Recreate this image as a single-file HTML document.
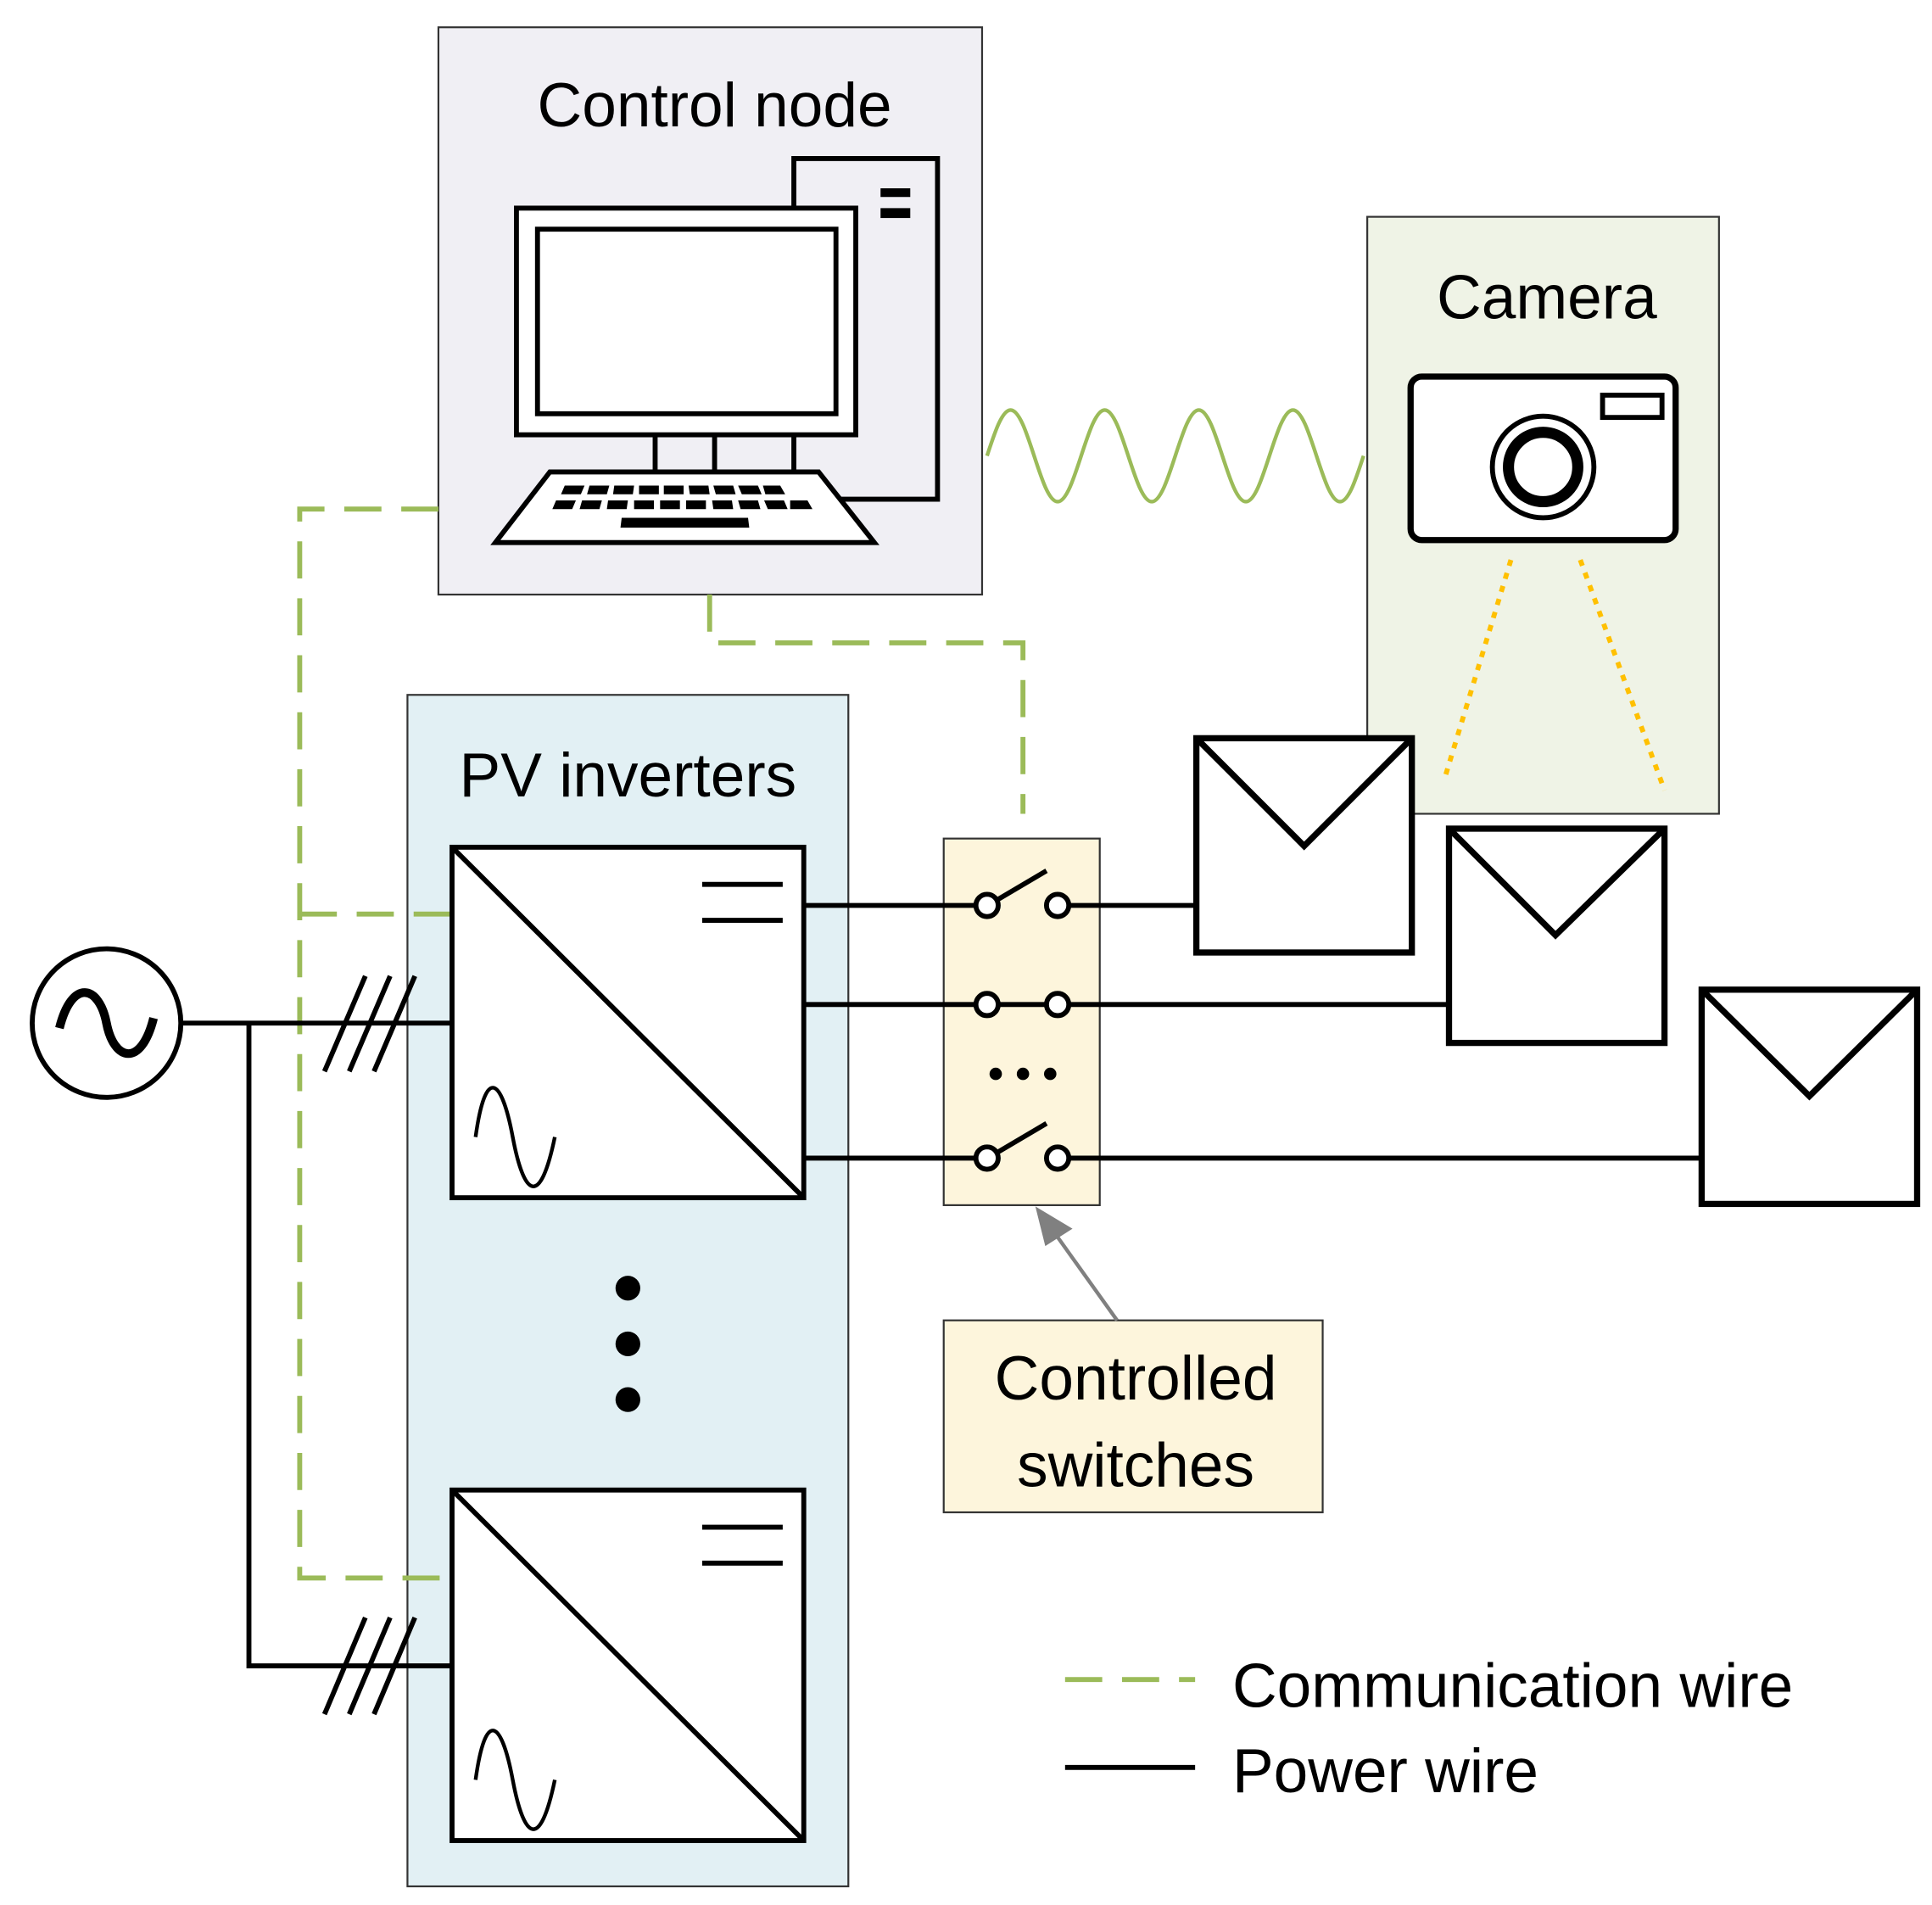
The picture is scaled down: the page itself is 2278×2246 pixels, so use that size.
<!DOCTYPE html>
<html><head><meta charset="utf-8"><style>
html,body{margin:0;padding:0;background:#fff;}
svg{display:block;}
text{font-family:"Liberation Sans",sans-serif;fill:#000;}
</style></head><body>
<svg width="2278" height="2246" viewBox="0 0 1560 1538" xmlns="http://www.w3.org/2000/svg">
<!-- boxes -->
<rect x="354" y="22" width="439" height="458" fill="#f0eff4" stroke="#333" stroke-width="1.5"/>
<rect x="1104" y="175" width="284" height="482" fill="#eff3e6" stroke="#333" stroke-width="1.5"/>
<rect x="329" y="561" width="356" height="962" fill="#e2f0f4" stroke="#333" stroke-width="1.5"/>
<rect x="762" y="677" width="126" height="296" fill="#fdf5dc" stroke="#333" stroke-width="1.5"/>
<rect x="762" y="1066" width="306" height="155" fill="#fdf5dc" stroke="#333" stroke-width="1.5"/>

<text x="577" y="102" font-size="50" text-anchor="middle">Control node</text>
<text x="1249" y="257" font-size="50" text-anchor="middle">Camera</text>
<text x="507" y="643" font-size="50" text-anchor="middle">PV inverters</text>
<text x="917" y="1130" font-size="50" text-anchor="middle">Controlled</text>
<text x="917" y="1200" font-size="50" text-anchor="middle">switches</text>
<text x="995" y="1378" font-size="50">Communication wire</text>
<text x="995" y="1447" font-size="50">Power wire</text>

<!-- computer -->
<g stroke="#000" stroke-width="4" fill="none">
<path d="M641 168 V128 H757 V403 H661"/>
<rect x="417" y="168" width="274" height="183" fill="#fff"/>
<rect x="434" y="185" width="241" height="149"/>
<path d="M529 351 V381 M577 351 V381 M641 351 V381"/>
<path d="M444 381 H661 L706 438 H400 Z" fill="#fff"/>
</g>
<rect x="711" y="152" width="24" height="7" fill="#000"/>
<rect x="711" y="168" width="24" height="8" fill="#000"/>
<g fill="#000">
<path d="M456 392h16l-3 7h-16z M476 392h16l-2 7h-16z M496 392h16l-1 7h-16z M516 392h16v7h-16z M536 392h16v7h-16z M556 392h16l1 7h-16z M576 392h16l2 7h-16z M596 392h16l3 7h-16z M616 392h14l4 7h-16z"/>
<path d="M449 404h16l-3 7h-16z M470 404h16l-2 7h-16z M491 404h16l-1 7h-16z M512 404h16v7h-16z M533 404h16v7h-16z M554 404h16v7h-16z M575 404h16l1 7h-16z M596 404h16l2 7h-16z M617 404h16l3 7h-16z M638 404h14l4 7h-18z"/>
<path d="M502 418h102l1 8h-104z"/>
</g>

<!-- wireless wave -->
<path d="M797 368 c6.2 -19 12.1 -37 19 -37 s12.8 18 19 37 s12.1 37 19 37 s12.8 -18 19 -37 s12.1 -37 19 -37 s12.8 18 19 37 s12.1 37 19 37 s12.8 -18 19 -37 s12.1 -37 19 -37 s12.8 18 19 37 s12.1 37 19 37 s12.8 -18 19 -37 s12.1 -37 19 -37 s12.8 18 19 37 s12.1 37 19 37 s12.8 -18 19 -37" fill="none" stroke="#9bbb59" stroke-width="3"/>

<!-- camera -->
<rect x="1139" y="304" width="214" height="132" rx="9" fill="#fff" stroke="#000" stroke-width="5"/>
<rect x="1294" y="319" width="48" height="18" fill="none" stroke="#000" stroke-width="4"/>
<circle cx="1246" cy="377" r="41" fill="none" stroke="#000" stroke-width="4"/>
<circle cx="1246" cy="377" r="28" fill="none" stroke="#000" stroke-width="9"/>
<path d="M1220 452 L1166 630 M1276 452 L1344 638" stroke="#ffc000" stroke-width="4" stroke-dasharray="5 6"/>

<!-- comm dashed -->
<g stroke="#9bbb59" stroke-width="4" fill="none" stroke-dasharray="30 16">
<path d="M354 411 H242 V1274 H365"/>
<path d="M242 738 H365"/>
<path d="M573 480 V519 H826 V657"/>
<path d="M860 1356 H965"/>
</g>

<!-- inverters -->
<g stroke="#000" stroke-width="4" fill="none">
<rect x="365" y="684" width="284" height="283" fill="#fff"/>
<path d="M365 684 L649 967 M567 714 H632 M567 743 H632"/>
<path d="M384 918 C392 860 405 870 414 918 S436 976 448 918" stroke-width="3"/>
<rect x="365" y="1203" width="284" height="283" fill="#fff"/>
<path d="M365 1203 L649 1486 M567 1233 H632 M567 1262 H632"/>
<path d="M384 1437 C392 1379 405 1389 414 1437 S436 1495 448 1437" stroke-width="3"/>
</g>
<circle cx="507" cy="1040" r="10"/><circle cx="507" cy="1085" r="10"/><circle cx="507" cy="1130" r="10"/>

<!-- AC source & power -->
<g stroke="#000" stroke-width="4" fill="none">
<circle cx="86" cy="826" r="60"/>
<path d="M48 830 C58 790 80 795 86 826 S114 862 124 822" stroke-width="7"/>
<path d="M146 826 H365 M201 826 V1345 H365"/>
<path d="M262 865 L295 788 M282 865 L315 788 M302 865 L335 788"/>
<path d="M262 1384 L295 1306 M282 1384 L315 1306 M302 1384 L335 1306"/>
<path d="M649 731 H787 M864 731 H966 M806 726 L845 703"/>
<path d="M649 811 H1170"/>
<path d="M649 935 H787 M864 935 H1374 M806 930 L845 907"/>
<path d="M860 1427 H965"/>
</g>
<g fill="#fff" stroke="#000" stroke-width="4">
<circle cx="797" cy="731" r="9"/><circle cx="854" cy="731" r="9"/>
<circle cx="797" cy="811" r="9"/><circle cx="854" cy="811" r="9"/>
<circle cx="797" cy="935" r="9"/><circle cx="854" cy="935" r="9"/>
</g>
<circle cx="804" cy="867" r="5"/><circle cx="826" cy="867" r="5"/><circle cx="848" cy="867" r="5"/>

<!-- panels -->
<g stroke="#000" stroke-width="5" fill="#fff">
<rect x="966" y="596" width="174" height="173"/><path d="M966 596 L1053 683 L1140 596" fill="none"/>
<rect x="1170" y="669" width="174" height="173"/><path d="M1170 669 L1256 755 L1344 669" fill="none"/>
<rect x="1374" y="799" width="174" height="173"/><path d="M1374 799 L1461 885 L1548 799" fill="none"/>
</g>

<!-- arrow -->
<path d="M902 1066 L852 996" stroke="#808080" stroke-width="3"/>
<path d="M836 974 L866 992 L844 1006 Z" fill="#808080"/>
</svg>
</body></html>
